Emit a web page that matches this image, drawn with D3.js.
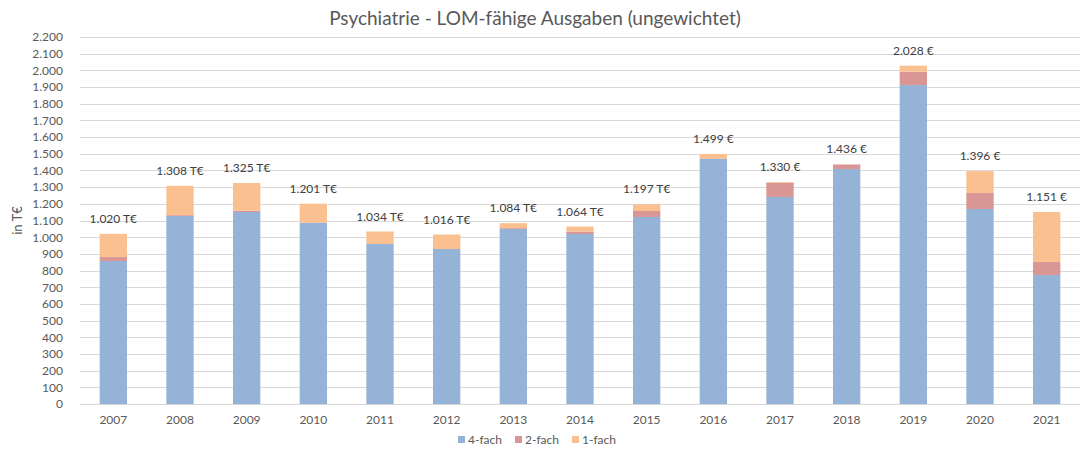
<!DOCTYPE html>
<html>
<head>
<meta charset="utf-8">
<script src="https://cdn.jsdelivr.net/npm/d3@7"></script>
<style>
  body { margin: 0; background: #fff; }
  svg text { font-family: Lato, "Open Sans", sans-serif; }
</style>
</head>
<body>
<svg width="1087" height="450"></svg>
<script>
// values in T€
var years = ["2007","2008","2009","2010","2011","2012","2013","2014","2015","2016","2017","2018","2019","2020","2021"];
var fach4 = [857, 1127, 1151, 1085, 959, 929, 1049, 1019, 1121, 1469, 1241, 1409, 1912, 1169, 773];
var fach2 = [24, 5, 8, 3, 0, 0, 5, 15, 36, 3, 84, 27, 80, 96, 78];
var fach1 = [139, 176, 166, 113, 75, 87, 30, 30, 40, 27, 5, 0, 36, 131, 300];
var totalLabels = ["1.020 T€","1.308 T€","1.325 T€","1.201 T€","1.034 T€","1.016 T€","1.084 T€","1.064 T€","1.197 T€",
                   "1.499 €","1.330 €","1.436 €","2.028 €","1.396 €","1.151 €"];
var seriesNames = ["4-fach", "2-fach", "1-fach"];
var colors = ["#95b3d7", "#d99694", "#fac090"];

var rows = years.map(function(y, i) {
  return {year: y, "4-fach": fach4[i], "2-fach": fach2[i], "1-fach": fach1[i], label: totalLabels[i]};
});

var svg = d3.select("svg");
var plotLeft = 80, plotRight = 1080, plotTop = 37, plotBottom = 404;

var x = d3.scaleBand().domain(years).range([plotLeft, plotRight]).paddingInner(0.59).paddingOuter(0.295);
var y = d3.scaleLinear().domain([0, 2200]).range([plotBottom, plotTop]);

var de = d3.formatLocale({decimal: ",", thousands: ".", grouping: [3], currency: ["", " €"]});
var fmt = de.format(",d");

// grid
svg.append("g")
  .selectAll("line")
  .data(y.ticks(22))
  .enter()
  .append("line")
    .attr("x1", plotLeft)
    .attr("x2", plotRight)
    .attr("y1", d => Math.round(y(d)) + 0.5)
    .attr("y2", d => Math.round(y(d)) + 0.5)
    .attr("stroke", "#d9d9d9")
    .attr("stroke-width", 1);

// y axis labels
var yAxis = d3.axisLeft(y).ticks(22).tickFormat(fmt).tickSize(0).tickPadding(0);
svg.append("g")
  .attr("transform", "translate(63,0)")
  .call(yAxis)
  .call(g => g.select(".domain").remove())
  .selectAll("text")
    .attr("fill", "#595959")
    .style("font-size", "12px");

svg.append("text")
  .attr("transform", "translate(22," + ((plotTop + plotBottom) / 2) + ") rotate(-90)")
  .attr("text-anchor", "middle")
  .attr("fill", "#595959")
  .style("font-size", "13px")
  .text("in T€");

// x axis
var xAxis = d3.axisBottom(x).tickSize(0).tickPadding(11);
svg.append("g")
  .attr("transform", "translate(0," + plotBottom + ")")
  .call(xAxis)
  .call(g => g.select(".domain").remove())
  .selectAll("text")
    .attr("fill", "#595959")
    .style("font-size", "12px");

// stacked bars
var stack = d3.stack().keys(seriesNames);
var layers = stack(rows);

svg.append("g")
  .selectAll("g")
  .data(layers)
  .enter()
  .append("g")
    .attr("fill", (d, i) => colors[i])
  .selectAll("rect")
  .data(d => d)
  .enter()
  .append("rect")
    .attr("x", d => x(d.data.year))
    .attr("width", x.bandwidth())
    .attr("y", d => y(d[1]))
    .attr("height", d => y(d[0]) - y(d[1]));

// total labels
svg.append("g")
  .selectAll("text")
  .data(rows)
  .enter()
  .append("text")
    .attr("x", d => x(d.year) + x.bandwidth() / 2)
    .attr("y", d => y(d["4-fach"] + d["2-fach"] + d["1-fach"]) - 11)
    .attr("text-anchor", "middle")
    .attr("fill", "#404040")
    .style("font-size", "12px")
    .text(d => d.label);

// title
svg.append("text")
  .attr("x", 535)
  .attr("y", 25)
  .attr("text-anchor", "middle")
  .attr("fill", "#595959")
  .style("font-size", "19px")
  .text("Psychiatrie - LOM-fähige Ausgaben (ungewichtet)");

// legend
var legend = svg.append("g")
  .selectAll("g")
  .data(seriesNames)
  .enter()
  .append("g")
    .attr("transform", (d, i) => "translate(" + (458 + i * 57) + ",440)");
legend.append("rect")
  .attr("x", 0).attr("y", -4)
  .attr("width", 7).attr("height", 7)
  .attr("fill", (d, i) => colors[i]);
legend.append("text")
  .attr("x", 10).attr("y", 4)
  .attr("fill", "#595959")
  .style("font-size", "12px")
  .text(d => d);
</script>
</body>
</html>
